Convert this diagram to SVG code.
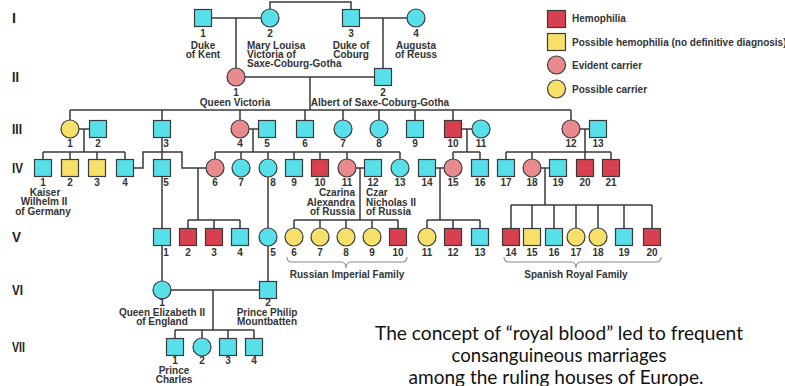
<svg xmlns="http://www.w3.org/2000/svg" width="785" height="386" viewBox="0 0 785 386">
<style>
.bg{fill:#fff}
.n{stroke:#3a3a3a;stroke-width:1.2}
.c{fill:#58e0ea}
.h{fill:#d8404f}
.y{fill:#f6e06a}
.p{fill:#e98a8e}
.ln{fill:none;stroke:#3a3a3a;stroke-width:1.5}
.br{fill:none;stroke:#8a8a8a;stroke-width:1.1}
text{font-family:"Liberation Sans",Arial,sans-serif;font-weight:bold;font-size:10px;fill:#333}
.m{text-anchor:middle}
.e{text-anchor:end}
.g{font-size:14px;fill:#222}
.t{font-family:Lato,"Open Sans",sans-serif;font-weight:normal;font-size:19px;fill:#111;text-anchor:middle}
</style>
<rect class="bg" x="0" y="0" width="785" height="386"/>

<g id="generations">
<text class="g" x="12" y="23" textLength="4" lengthAdjust="spacingAndGlyphs">I</text>
<text class="g" x="12" y="82" textLength="7" lengthAdjust="spacingAndGlyphs">II</text>
<text class="g" x="12" y="134" textLength="10" lengthAdjust="spacingAndGlyphs">III</text>
<text class="g" x="12" y="173" textLength="11" lengthAdjust="spacingAndGlyphs">IV</text>
<text class="g" x="12" y="242" textLength="9" lengthAdjust="spacingAndGlyphs">V</text>
<text class="g" x="12" y="295" textLength="11" lengthAdjust="spacingAndGlyphs">VI</text>
<text class="g" x="12" y="352" textLength="13" lengthAdjust="spacingAndGlyphs">VII</text>
</g>

<g id="connectors">
<path class="ln" d="M212,18H261M236,18V68M270,9V2H351V9.5M359.5,18H407M383,18V68.5"/>
<path class="ln" d="M245,77H374.5M310,77V110"/>
<path class="ln" d="M70,110H571M70,110V120M162,110V120.5M240,110V120M305,110V120.5M343,110V120M379,110V120M415,110V120.5M453,110V120.5M571,110V120"/>
<path class="ln" d="M79,129H89.5M84,129V152M249,129H258.5M253,129V152M462,129H472M467,129V152M580,129H589.5M585,129V152"/>
<path class="ln" d="M162,137.5V159.5"/>
<path class="ln" d="M43,152H125M43,152V159.5M70,152V159.5M97,152V159.5M125,152V159.5"/>
<path class="ln" d="M133.5,168H143V152H182V168H206M198,168V220"/>
<path class="ln" d="M215,152H400M215,152V159M241,152V159M268,152V159M294,152V159.5M320,152V159.5M347,152V159M400,152V159"/>
<path class="ln" d="M453,152H480M453,152V159M480,152V159.5"/>
<path class="ln" d="M506,152H611M506,152V159.5M532,152V159M585,152V159.5M611,152V159.5"/>
<path class="ln" d="M356,168H364.5M360,168V220M435.5,168H444M440,168V220M541,168H549.5M545,168V205"/>
<path class="ln" d="M162,176.5V228.5M268,177V228"/>
<path class="ln" d="M188,220H240M188,220V228.5M214,220V228.5M240,220V228.5"/>
<path class="ln" d="M294,220H398M294,220V228M320,220V228M346,220V228M372,220V228M398,220V228.5"/>
<path class="ln" d="M427,220H480M427,220V228M453,220V228.5M480,220V228.5"/>
<path class="ln" d="M511,205H652M511,205V228.5M532,205V228.5M554,205V228.5M576,205V228M598,205V228M624,205V228.5M652,205V228.5"/>
<path class="ln" d="M162,245.5V281M268,246V281.5"/>
<path class="ln" d="M171,290H259.5M213,290V330M175,330H254M175,330V338.5M202,330V338M228,330V338.5M254,330V338.5"/>
<path class="br" d="M287,257Q287,262 292,262H341Q346,262 346,268Q346,262 351,262H402Q407,262 407,257"/>
<path class="br" d="M504,257Q504,262 509,262H571Q576,262 576,268Q576,262 581,262H656Q661,262 661,257"/>
</g>

<g id="I-1"><rect class="n c" x="194.5" y="9.5" width="17" height="17"/><text class="m" x="203" y="37">1</text><text class="m" x="203" y="49">Duke</text><text class="m" x="203" y="58">of Kent</text></g>
<g id="I-2"><circle class="n c" cx="270" cy="18" r="9"/><text class="m" x="270" y="37">2</text><text x="247" y="49">Mary Louisa</text><text x="247" y="58">Victoria of</text><text x="247" y="67">Saxe-Coburg-Gotha</text></g>
<g id="I-3"><rect class="n c" x="342.5" y="9.5" width="17" height="17"/><text class="m" x="351" y="37">3</text><text class="m" x="351" y="49">Duke of</text><text class="m" x="351" y="58">Coburg</text></g>
<g id="I-4"><circle class="n c" cx="416" cy="18" r="9"/><text class="m" x="416" y="37">4</text><text class="m" x="416" y="49">Augusta</text><text class="m" x="416" y="58">of Reuss</text></g>

<g id="II-1"><circle class="n p" cx="236" cy="77" r="9"/><text class="m" x="236" y="96">1</text><text class="m" x="235" y="106">Queen Victoria</text></g>
<g id="II-2"><rect class="n c" x="374.5" y="68.5" width="17" height="17"/><text class="m" x="383" y="96">2</text><text class="m" x="380" y="106">Albert of Saxe-Coburg-Gotha</text></g>

<g id="III-1"><circle class="n y" cx="70" cy="129" r="9"/><text class="m" x="70" y="147">1</text></g>
<g id="III-2"><rect class="n c" x="89.5" y="120.5" width="17" height="17"/><text class="m" x="98" y="147">2</text></g>
<g id="III-3"><rect class="n c" x="153.5" y="120.5" width="17" height="17"/><text class="m" x="166" y="147">3</text></g>
<g id="III-4"><circle class="n p" cx="240" cy="129" r="9"/><text class="m" x="240" y="147">4</text></g>
<g id="III-5"><rect class="n c" x="258.5" y="120.5" width="17" height="17"/><text class="m" x="267" y="147">5</text></g>
<g id="III-6"><rect class="n c" x="296.5" y="120.5" width="17" height="17"/><text class="m" x="305" y="147">6</text></g>
<g id="III-7"><circle class="n c" cx="343" cy="129" r="9"/><text class="m" x="343" y="147">7</text></g>
<g id="III-8"><circle class="n c" cx="379" cy="129" r="9"/><text class="m" x="379" y="147">8</text></g>
<g id="III-9"><rect class="n c" x="406.5" y="120.5" width="17" height="17"/><text class="m" x="415" y="147">9</text></g>
<g id="III-10"><rect class="n h" x="444.5" y="120.5" width="17" height="17"/><text class="m" x="453" y="147">10</text></g>
<g id="III-11"><circle class="n c" cx="481" cy="129" r="9"/><text class="m" x="481" y="147">11</text></g>
<g id="III-12"><circle class="n p" cx="571" cy="129" r="9"/><text class="m" x="571" y="147">12</text></g>
<g id="III-13"><rect class="n c" x="589.5" y="120.5" width="17" height="17"/><text class="m" x="598" y="147">13</text></g>

<g id="IV-1"><rect class="n c" x="34.5" y="159.5" width="17" height="17"/><text class="m" x="43" y="186">1</text><text class="m" x="45" y="196">Kaiser</text><text class="m" x="44" y="205">Wilhelm II</text><text class="m" x="43" y="215">of Germany</text></g>
<g id="IV-2"><rect class="n y" x="61.5" y="159.5" width="17" height="17"/><text class="m" x="70" y="186">2</text></g>
<g id="IV-3"><rect class="n y" x="88.5" y="159.5" width="17" height="17"/><text class="m" x="97" y="186">3</text></g>
<g id="IV-4"><rect class="n c" x="116.5" y="159.5" width="17" height="17"/><text class="m" x="125" y="186">4</text></g>
<g id="IV-5"><rect class="n c" x="153.5" y="159.5" width="17" height="17"/><text class="m" x="166" y="186">5</text></g>
<g id="IV-6"><circle class="n p" cx="215" cy="168" r="9"/><text class="m" x="215" y="186">6</text></g>
<g id="IV-7"><circle class="n c" cx="241" cy="168" r="9"/><text class="m" x="241" y="186">7</text></g>
<g id="IV-8"><circle class="n c" cx="268" cy="168" r="9"/><text class="m" x="273" y="186">8</text></g>
<g id="IV-9"><rect class="n c" x="285.5" y="159.5" width="17" height="17"/><text class="m" x="294" y="186">9</text></g>
<g id="IV-10"><rect class="n h" x="311.5" y="159.5" width="17" height="17"/><text class="m" x="320" y="186">10</text></g>
<g id="IV-11"><circle class="n p" cx="347" cy="168" r="9"/><text class="m" x="347" y="186">11</text><text class="e" x="355" y="196">Czarina</text><text class="e" x="355" y="205.5">Alexandra</text><text class="e" x="355" y="215">of Russia</text></g>
<g id="IV-12"><rect class="n c" x="364.5" y="159.5" width="17" height="17"/><text class="m" x="373" y="186">12</text><text x="366" y="196">Czar</text><text x="366" y="205.5">Nicholas II</text><text x="366" y="215">of Russia</text></g>
<g id="IV-13"><circle class="n c" cx="400" cy="168" r="9"/><text class="m" x="400" y="186">13</text></g>
<g id="IV-14"><rect class="n c" x="418.5" y="159.5" width="17" height="17"/><text class="m" x="427" y="186">14</text></g>
<g id="IV-15"><circle class="n p" cx="453" cy="168" r="9"/><text class="m" x="453" y="186">15</text></g>
<g id="IV-16"><rect class="n c" x="471.5" y="159.5" width="17" height="17"/><text class="m" x="480" y="186">16</text></g>
<g id="IV-17"><rect class="n c" x="497.5" y="159.5" width="17" height="17"/><text class="m" x="506" y="186">17</text></g>
<g id="IV-18"><circle class="n p" cx="532" cy="168" r="9"/><text class="m" x="532" y="186">18</text></g>
<g id="IV-19"><rect class="n c" x="549.5" y="159.5" width="17" height="17"/><text class="m" x="558" y="186">19</text></g>
<g id="IV-20"><rect class="n h" x="576.5" y="159.5" width="17" height="17"/><text class="m" x="585" y="186">20</text></g>
<g id="IV-21"><rect class="n h" x="602.5" y="159.5" width="17" height="17"/><text class="m" x="611" y="186">21</text></g>

<g id="V-1"><rect class="n c" x="153.5" y="228.5" width="17" height="17"/><text class="m" x="166" y="256">1</text></g>
<g id="V-2"><rect class="n h" x="179.5" y="228.5" width="17" height="17"/><text class="m" x="188" y="256">2</text></g>
<g id="V-3"><rect class="n h" x="205.5" y="228.5" width="17" height="17"/><text class="m" x="214" y="256">3</text></g>
<g id="V-4"><rect class="n c" x="231.5" y="228.5" width="17" height="17"/><text class="m" x="240" y="256">4</text></g>
<g id="V-5"><circle class="n c" cx="268" cy="237" r="9"/><text class="m" x="273" y="256">5</text></g>
<g id="V-6"><circle class="n y" cx="294" cy="237" r="9"/><text class="m" x="294" y="256">6</text></g>
<g id="V-7"><circle class="n y" cx="320" cy="237" r="9"/><text class="m" x="320" y="256">7</text></g>
<g id="V-8"><circle class="n y" cx="346" cy="237" r="9"/><text class="m" x="346" y="256">8</text></g>
<g id="V-9"><circle class="n y" cx="372" cy="237" r="9"/><text class="m" x="372" y="256">9</text></g>
<g id="V-10"><rect class="n h" x="389.5" y="228.5" width="17" height="17"/><text class="m" x="398" y="256">10</text></g>
<g id="V-11"><circle class="n y" cx="427" cy="237" r="9"/><text class="m" x="427" y="256">11</text></g>
<g id="V-12"><rect class="n h" x="444.5" y="228.5" width="17" height="17"/><text class="m" x="453" y="256">12</text></g>
<g id="V-13"><rect class="n c" x="471.5" y="228.5" width="17" height="17"/><text class="m" x="480" y="256">13</text></g>
<g id="V-14"><rect class="n h" x="502.5" y="228.5" width="17" height="17"/><text class="m" x="511" y="256">14</text></g>
<g id="V-15"><rect class="n y" x="523.5" y="228.5" width="17" height="17"/><text class="m" x="532" y="256">15</text></g>
<g id="V-16"><rect class="n c" x="545.5" y="228.5" width="17" height="17"/><text class="m" x="554" y="256">16</text></g>
<g id="V-17"><circle class="n y" cx="576" cy="237" r="9"/><text class="m" x="576" y="256">17</text></g>
<g id="V-18"><circle class="n y" cx="598" cy="237" r="9"/><text class="m" x="598" y="256">18</text></g>
<g id="V-19"><rect class="n c" x="615.5" y="228.5" width="17" height="17"/><text class="m" x="624" y="256">19</text></g>
<g id="V-20"><rect class="n h" x="643.5" y="228.5" width="17" height="17"/><text class="m" x="652" y="256">20</text></g>

<g id="russian-family"><text class="m" x="347" y="278">Russian Imperial Family</text></g>
<g id="spanish-family"><text class="m" x="576" y="278">Spanish Royal Family</text></g>

<g id="VI-1"><circle class="n c" cx="162" cy="290" r="9"/><text class="m" x="162" y="306">1</text><text class="m" x="162" y="316">Queen Elizabeth II</text><text class="m" x="162" y="325">of England</text></g>
<g id="VI-2"><rect class="n c" x="259.5" y="281.5" width="17" height="17"/><text class="m" x="268" y="306">2</text><text class="m" x="267" y="316">Prince Philip</text><text class="m" x="267" y="325">Mountbatten</text></g>

<g id="VII-1"><rect class="n c" x="166.5" y="338.5" width="17" height="17"/><text class="m" x="175" y="364">1</text><text class="m" x="174" y="374">Prince</text><text class="m" x="174" y="383">Charles</text></g>
<g id="VII-2"><circle class="n c" cx="202" cy="347" r="9"/><text class="m" x="202" y="364">2</text></g>
<g id="VII-3"><rect class="n c" x="219.5" y="338.5" width="17" height="17"/><text class="m" x="228" y="364">3</text></g>
<g id="VII-4"><rect class="n c" x="245.5" y="338.5" width="17" height="17"/><text class="m" x="254" y="364">4</text></g>

<g id="legend">
<rect class="n h" x="547.5" y="10.5" width="18" height="17"/><text x="572" y="22">Hemophilia</text>
<rect class="n y" x="547.5" y="33.5" width="18" height="17"/><text x="572" y="46">Possible hemophilia (no definitive diagnosis)</text>
<circle class="n p" cx="556.5" cy="65" r="9"/><text x="572" y="69">Evident carrier</text>
<circle class="n y" cx="556.5" cy="89" r="9"/><text x="572" y="93">Possible carrier</text>
</g>

<g id="caption">
<text class="t" x="559" y="340" textLength="368" lengthAdjust="spacingAndGlyphs">The concept of “royal blood” led to frequent</text>
<text class="t" x="559" y="362" textLength="215" lengthAdjust="spacingAndGlyphs">consanguineous marriages</text>
<text class="t" x="556" y="384" textLength="295" lengthAdjust="spacingAndGlyphs">among the ruling houses of Europe.</text>
</g>
</svg>
